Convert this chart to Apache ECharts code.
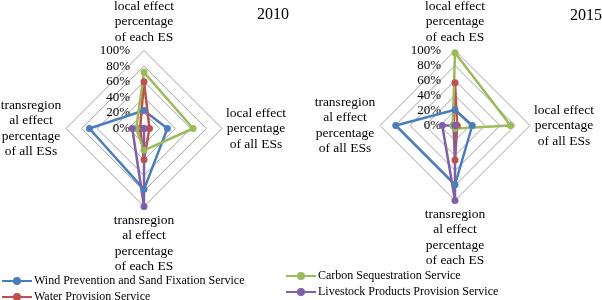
<!DOCTYPE html>
<html><head><meta charset="utf-8">
<script src="https://cdn.jsdelivr.net/npm/echarts@6/dist/echarts.min.js"></script>
<style>html,body{margin:0;padding:0;background:#fff}#c{width:602px;height:300px}</style>
</head><body><div id="c"></div>
<script>
// Axis order as drawn by ECharts (counter-clockwise from top): top, left, bottom, right
const axisNames = [
  'local effect\npercentage\nof each ES',
  'transregion\nal effect\npercentage\nof all ESs',
  'transregion\nal effect\npercentage\nof each ES',
  'local effect\npercentage\nof all ESs'
];
const tickLabels = ['0%', '20%', '40%', '60%', '80%', '100%'];
const years = ['2010', '2015'];
const services = [
  'Wind Prevention and Sand Fixation Service',
  'Water Provision Service',
  'Carbon Sequestration Service',
  'Livestock Products Provision Service'
];
// values in %, order: top, left, bottom, right
const wind2010 = [23, 70, 78, 30];
const water2010 = [60, 5, 40, 7];
const carbon2010 = [72, 10, 28, 63];
const livestock2010 = [0, 15, 100, 0];
const wind2015 = [21, 79, 79, 23];
const water2015 = [57, 2, 46, 3];
const carbon2015 = [97, 3, 4, 74];
const livestock2015 = [0, 17, 100, 0];

const colors = ['#4A7EBB', '#C0504D', '#9BBB59', '#7F60A8'];
const serif = "'Liberation Serif', 'Times New Roman', serif";

const chart = echarts.init(document.getElementById('c'), null, {renderer: 'canvas'});

function indicators(gaps) {
  return axisNames.map((n, i) => {
    const ind = { name: n, min: 0, max: 100, nameGap: gaps[i] };
    if (i === 0) {
      ind.axisLabel = {
        show: true, color: '#000', fontFamily: serif, fontSize: 13,
        margin: 14, formatter: v => tickLabels[Math.round(v / 20)]
      };
    }
    return ind;
  });
}
const nameStyle = {
  color: '#000', fontFamily: serif, fontSize: 13.5,
  formatter: name => name.split('\n').map(s => '{a|' + s + '}').join('\n'),
  rich: { a: { width: 62, align: 'center', fontFamily: serif, fontSize: 13.5, lineHeight: 15.5, color: '#000' } }
};
function radarOpt(center, radius) {
  return {
    center: center, radius: radius, shape: 'polygon', startAngle: 90, splitNumber: 5,
    indicator: indicators([2, 4, 6, 3]),
    axisName: nameStyle,
    axisLine: { show: false },
    axisTick: { show: false },
    axisLabel: { show: false },
    splitArea: { show: false },
    splitLine: { lineStyle: { color: '#A0A0A0', width: 1 } }
  };
}
const icon = 'path://M0,3H30V5H0Z M11,4a4,4 0 1,1 8,0a4,4 0 1,1 -8,0Z';
function seriesFor(idx, arrs) {
  return {
    type: 'radar', radarIndex: idx, symbol: 'circle', symbolSize: 7,
    data: arrs.map((a, i) => ({
      name: services[i], value: a,
      itemStyle: { color: colors[i] },
      lineStyle: { color: colors[i], width: 2.5 }
    }))
  };
}
const legendText = { fontFamily: serif, fontSize: 12, color: '#000', padding: [0, 0, 0, -3] };
chart.setOption({
  animation: false,
  color: colors,
  title: [
    { text: years[0], left: 252, top: 2, textStyle: { fontFamily: serif, fontSize: 16, fontWeight: 'normal', color: '#000' } },
    { text: years[1], left: 565, top: 3, textStyle: { fontFamily: serif, fontSize: 16, fontWeight: 'normal', color: '#000' } }
  ],
  radar: [radarOpt([144, 128.5], 78), radarOpt([455, 125.5], 75)],
  legend: [
    { data: services.slice(0, 2).map(n => ({ name: n, icon: icon })), orient: 'vertical', left: 2, top: 275, height: 60,
      itemWidth: 30, itemHeight: 8, itemGap: 4, padding: 0, textStyle: legendText },
    { data: services.slice(2, 4).map(n => ({ name: n, icon: icon })), orient: 'vertical', left: 286, top: 270, height: 60,
      itemWidth: 30, itemHeight: 8, itemGap: 4, padding: 0, textStyle: legendText }
  ],
  series: [
    seriesFor(0, [wind2010, water2010, carbon2010, livestock2010]),
    seriesFor(1, [wind2015, water2015, carbon2015, livestock2015])
  ]
});
</script></body></html>
